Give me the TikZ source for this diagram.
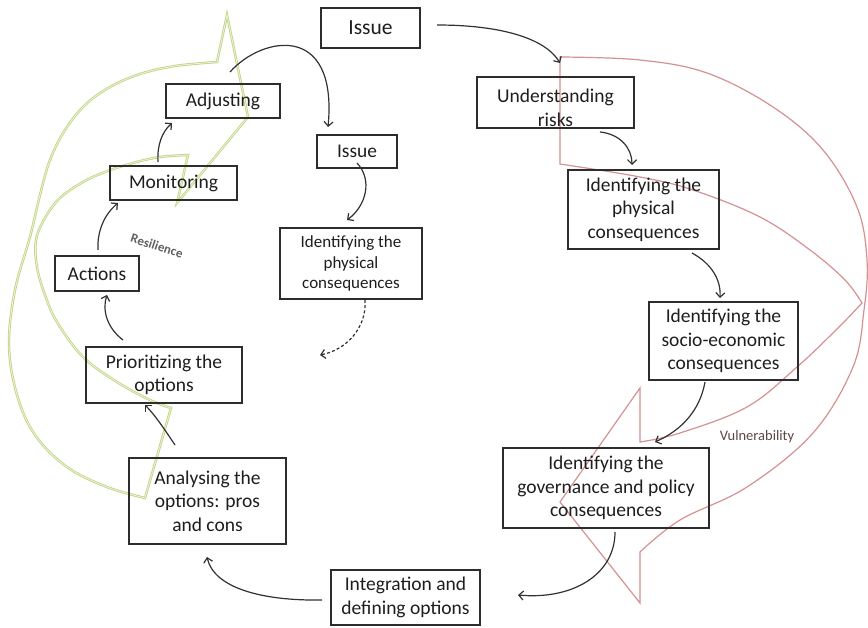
\documentclass[tikz,border=0pt]{standalone}
\usepackage{fontspec}
\setmainfont{Carlito}
\usetikzlibrary{arrows.meta}
\definecolor{boxline}{RGB}{45,45,45}
\definecolor{txtcol}{RGB}{30,30,30}
\definecolor{conncol}{RGB}{50,50,50}
\definecolor{resgreen}{RGB}{190,210,125}
\definecolor{vulred}{RGB}{214,145,145}
\begin{document}
\begin{tikzpicture}[x=1pt,y=-1pt,
  box/.style={draw=boxline,line width=1.3pt,inner sep=0pt,outer sep=0pt,align=center,text=txtcol,font=\fontsize{19.5}{23.5}\selectfont},
  link/.style={draw=conncol,line width=1.2pt,-{Straight Barb[length=4.5pt,width=9pt]}},
  resband/.style={draw=resgreen,line width=0.75pt,double=resgreen!30,double distance=0.9pt,line join=miter},
  vulband/.style={draw=vulred,line width=1.2pt,line join=miter}
]
\fill[white] (0,0) rectangle (868,628);
\useasboundingbox (0,0) rectangle (868,628);

% green resilience arrow
\draw[resband] plot[smooth,tension=0.6] coordinates {(145,498) (107,487) (67,467) (35,435) (17,395) (9,345) (15,290) (30,237) (40,195) (50,160) (65,130) (85,105) (110,87) (140,74) (175,66) (217,62)}
  -- (227,15) -- (248,117) -- (177,203) -- (188,155)
  -- plot[smooth,tension=0.6] coordinates {(188,155) (160,157) (133,163) (105,172) (83,182) (60,198) (45,218) (36,240) (37,267) (45,295) (57,322) (83,357) (117,382) (150,400) (171,408)}
  -- cycle;

% red vulnerability arrow
\draw[vulband] plot[smooth,tension=0.6] coordinates {(560,57) (640,60) (707,73) (773,107) (823,150) (857,207) (867,260) (864,310) (853,367) (813,433) (747,487) (680,520) (640,552)}
  -- (640,603) -- (560,502) -- (640,388) -- (640,442)
  -- plot[smooth,tension=0.6] coordinates {(640,442) (680,433) (747,407) (797,367) (838,328) (862,303)}
  -- plot[smooth,tension=0.6] coordinates {(862,303) (845,280) (810,250) (760,217) (693,190) (640,177) (560,164)}
  -- cycle;

% boxes
\node[box,minimum width=99pt,minimum height=40pt,font=\fontsize{21.5}{25}\selectfont] (issueA) at (370.5,28) {Issue};
\node[box,minimum width=114pt,minimum height=34pt] (adj) at (223,101) {Adjusting};
\node[box,minimum width=127pt,minimum height=34pt] (mon) at (173.5,183) {Monitoring};
\node[box,minimum width=84pt,minimum height=35pt] (act) at (97,273.5) {Actions};
\node[box,minimum width=156pt,minimum height=56pt] (prio) at (164,375) {Prioritizing the\\options};
\node[box,minimum width=157pt,minimum height=86pt] (ana) at (207.5,501) {Analysing the\\options: pros\\and cons};
\node[box,minimum width=149pt,minimum height=55pt] (integ) at (405.5,597.5) {Integration and\\defining options};
\node[box,minimum width=80pt,minimum height=33pt,font=\fontsize{19.4}{23}\selectfont] (issueB) at (357,151.5) {Issue};
\node[box,minimum width=142pt,minimum height=71pt,font=\fontsize{17}{20.5}\selectfont] (physM) at (351,263.5) {Identifying the\\physical\\consequences};
\node[box,minimum width=157pt,minimum height=51pt] (und) at (555.5,102.5) {};
\node[align=center,inner sep=0pt,text=txtcol,font=\fontsize{19.5}{23.5}\selectfont] (undtext) at (555.5,108) {Understanding\\risks};
\node[box,minimum width=151pt,minimum height=79pt] (physR) at (643.5,209.5) {Identifying the\\physical\\consequences};
\node[box,minimum width=149pt,minimum height=78pt] (socio) at (723.5,341) {Identifying the\\socio-economic\\consequences};
\node[box,minimum width=206pt,minimum height=80pt] (gov) at (606,488) {Identifying the\\governance and policy\\consequences};

% labels
\node[rotate=-18,inner sep=0pt,text=black!62,font=\bfseries\fontsize{13}{15}\selectfont] (res) at (157,246) {Resilience};
\node[inner sep=0pt,text={rgb,255:red,95;green,70;blue,70},font=\fontsize{14.5}{17}\selectfont] (vul) at (757,437) {Vulnerability};

% connectors
\coordinate (dashend) at (320,355);
\draw[link] ([shift={(17,-3)}]issueA.east) .. controls (500,25) and (545,38) .. ([shift={(4.5,-14)}]und.north);
\draw[link] ([shift={(7,-12)}]adj.north) .. controls (262,36) and (338,22) .. ([shift={(-29,-8)}]issueB.north);
\draw[link] ([shift={(0,-5)}]issueB.south) .. controls (373,180) and (366,206) .. ([shift={(-4,-8)}]physM.north);
\draw[link,dash pattern=on 3pt off 2.2pt] ([shift={(14,1)}]physM.south) .. controls (367,328) and (346,350) .. (dashend);
\draw[link] ([shift={(44.5,4)}]und.south) .. controls (620,134) and (632,148) .. ([shift={(-11.5,-5)}]physR.north);
\draw[link] ([shift={(48.5,4)}]physR.south) .. controls (712,264) and (721,280) .. ([shift={(-3.5,-4)}]socio.north);
\draw[link] ([shift={(-18.5,2)}]socio.south) .. controls (700,410) and (682,430) .. ([shift={(49,-6)}]gov.north);
\draw[link] ([shift={(9,4)}]gov.south) .. controls (615,575) and (572,600) .. ([shift={(38,-2.5)}]integ.east);
\draw[link] ([shift={(-9,2.5)}]integ.west) .. controls (262,601) and (214,588) .. ([shift={(-0.5,13)}]ana.south);
\draw[link] ([shift={(-32.5,-13)}]ana.north) .. controls (165,430) and (155,415) .. ([shift={(-19,2)}]prio.south);
\draw[link] ([shift={(-41,-7)}]prio.north) .. controls (107,328) and (102,310) .. ([shift={(10,4)}]act.south);
\draw[link] ([shift={(1,-6)}]act.north) .. controls (97,230) and (105,214) .. ([shift={(-55.5,3)}]mon.south);
\draw[link] ([shift={(-15.5,-4)}]mon.north) .. controls (157,145) and (162,132) .. ([shift={(-51,5)}]adj.south);
\end{tikzpicture}
\end{document}
